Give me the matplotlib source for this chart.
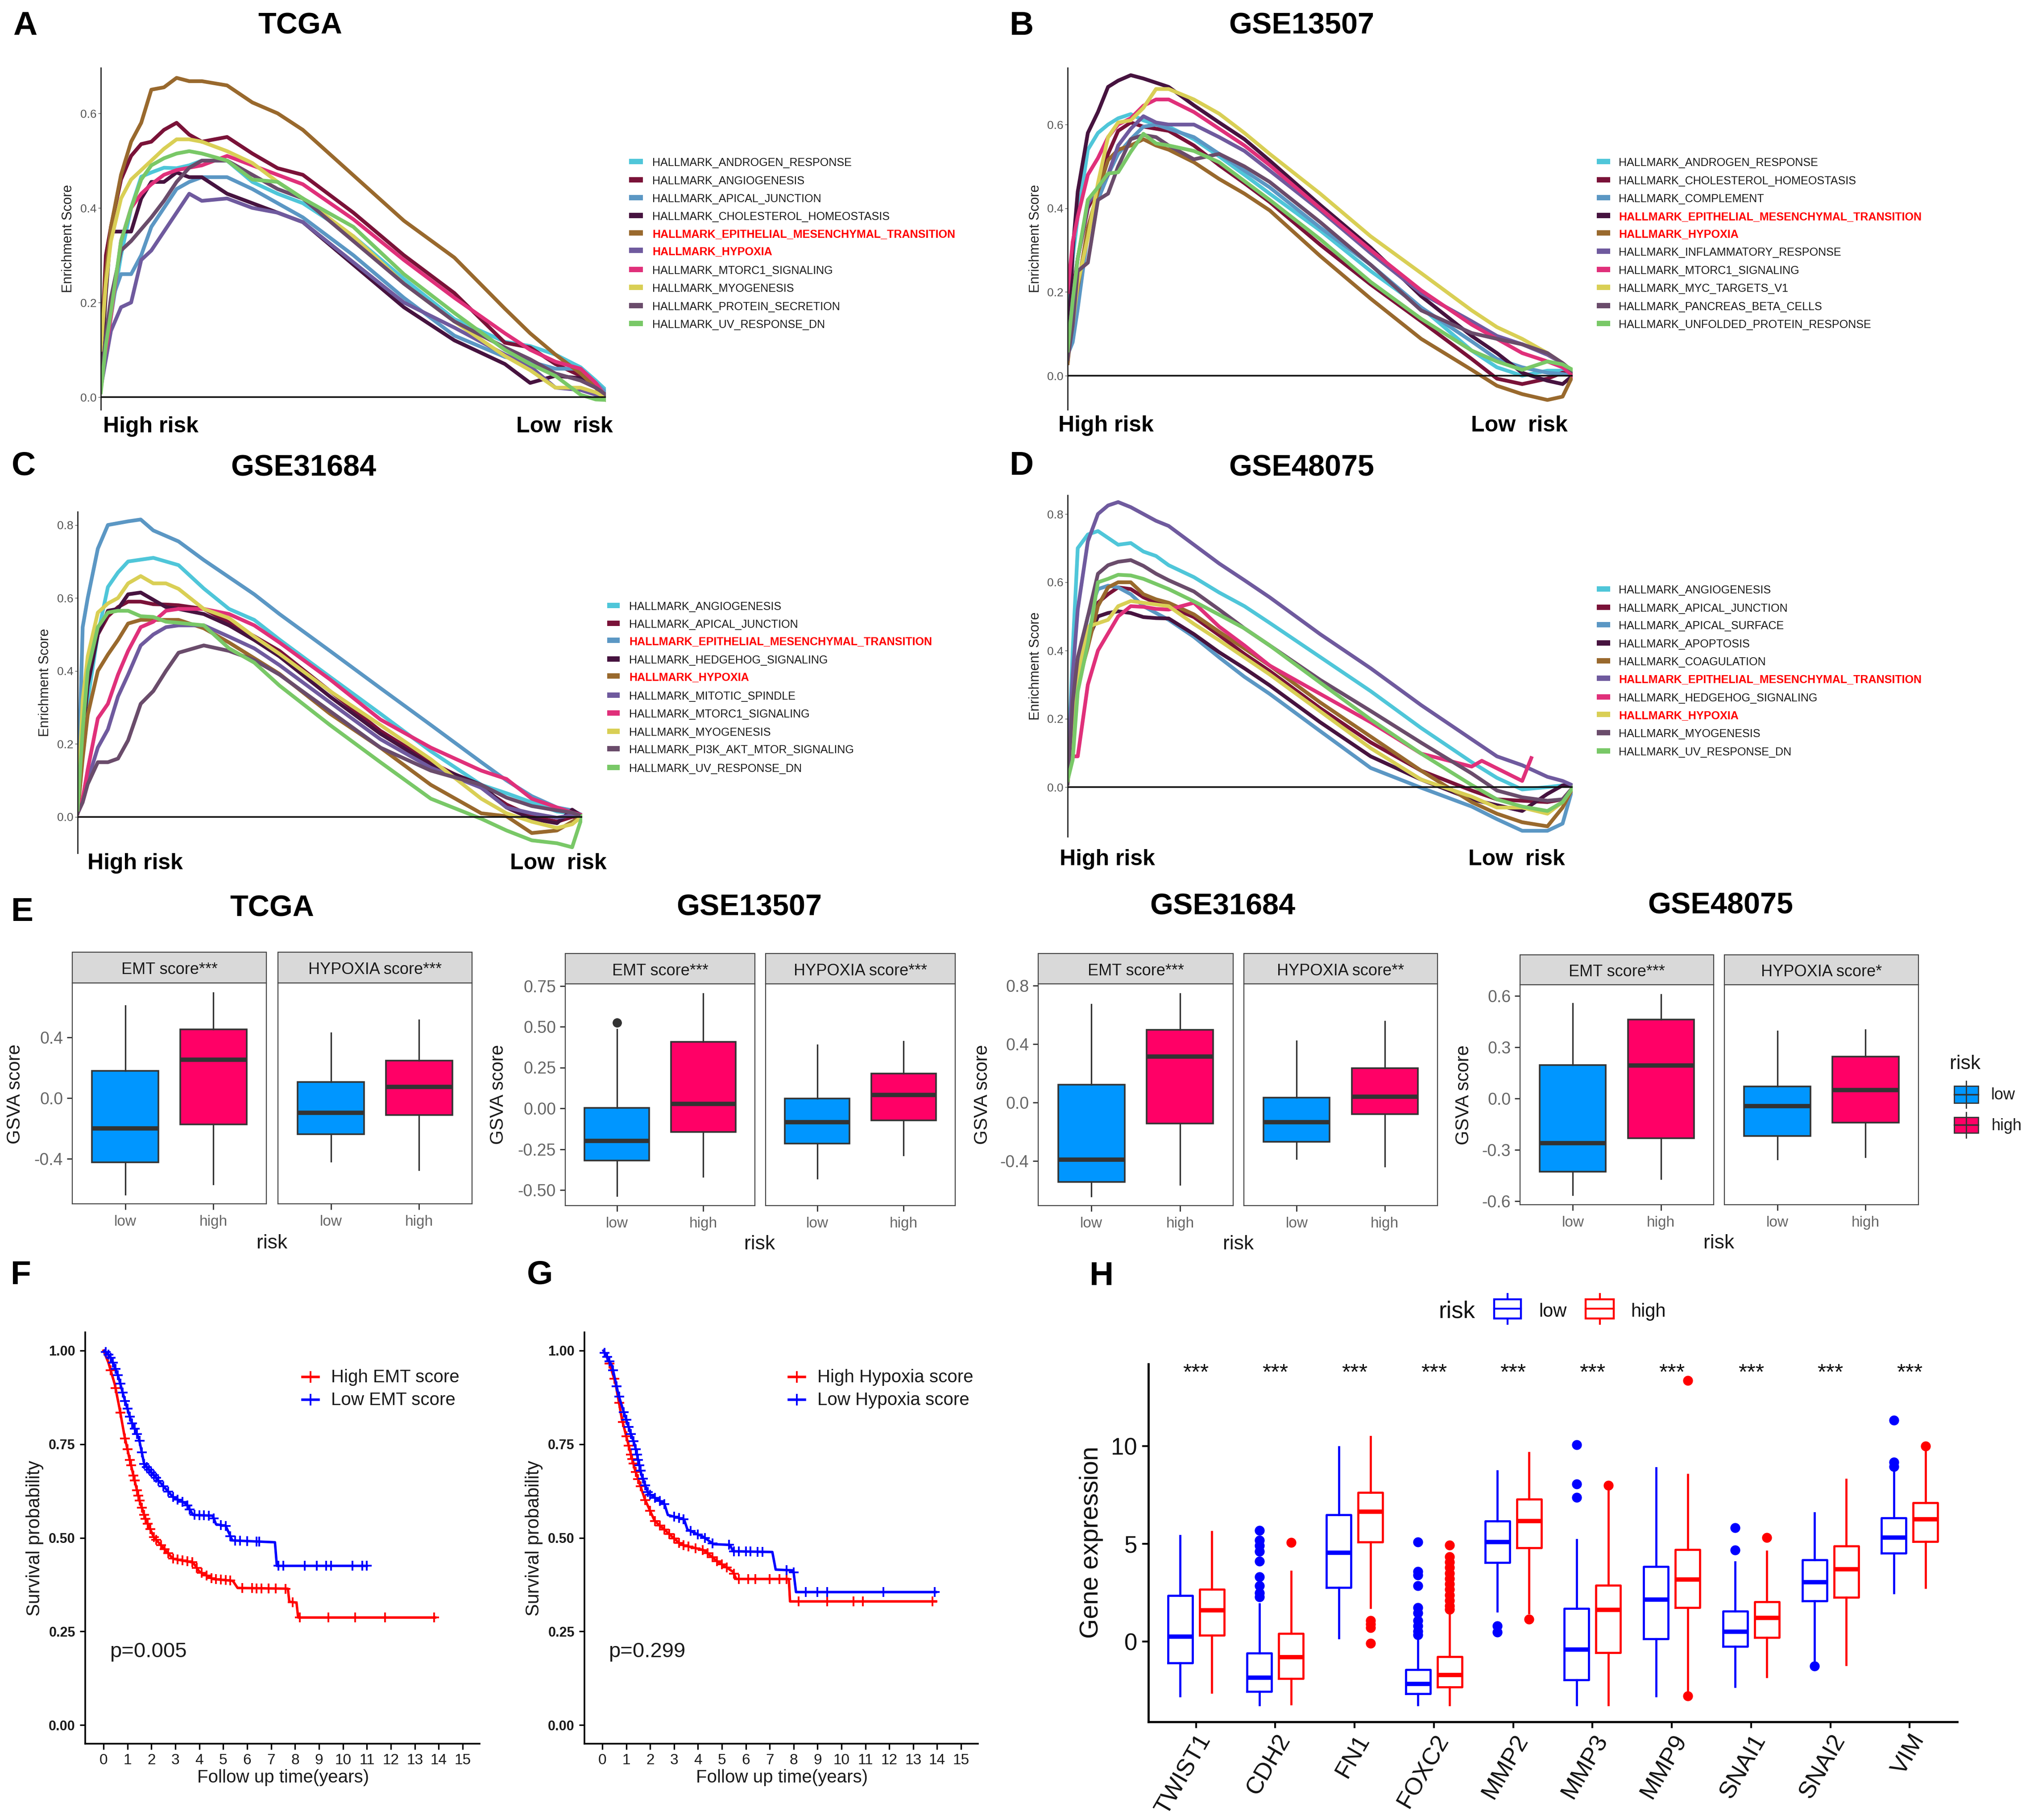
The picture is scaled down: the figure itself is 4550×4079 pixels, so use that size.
import numpy as np
import matplotlib
matplotlib.use('Agg')
import matplotlib.pyplot as plt
from matplotlib.patches import Rectangle
from matplotlib.lines import Line2D

plt.rcParams['font.family'] = ['Liberation Sans', 'DejaVu Sans']

W, H = 4550, 4079

# --- GSEA running scores
GRID = [0, .01, .02, .04, .06, .08, .1, .125, .15, .175, .2, .25, .3, .35, .4, .5, .6, .7, .8, .85, .9, .95, .98, 1]
GSEA_COLORS = ['#4FC6D9', '#7A1238', '#5B97C4', '#46133F', '#99692D', '#6F5A9E', '#E0307A', '#D9CF55', '#6A4C6B', '#79C867']

A_NAMES = ['ANDROGEN_RESPONSE', 'ANGIOGENESIS', 'APICAL_JUNCTION', 'CHOLESTEROL_HOMEOSTASIS', 'EPITHELIAL_MESENCHYMAL_TRANSITION',
           'HYPOXIA', 'MTORC1_SIGNALING', 'MYOGENESIS', 'PROTEIN_SECRETION', 'UV_RESPONSE_DN']
A_CURVES = [
    [.03, .10, .17, .30, .40, .466, .475, .485, .484, .49, .50, .50, .455, .43, .41, .34, .25, .165, .117, .108, .09, .063, .035, .015],
    [.08, .30, .36, .46, .51, .535, .54, .565, .58, .555, .54, .55, .515, .484, .47, .39, .30, .22, .115, .105, .07, .045, .02, 0],
    [.05, .12, .20, .26, .26, .30, .36, .40, .44, .455, .465, .465, .44, .41, .38, .30, .21, .13, .085, .075, .06, .06, .03, .01],
    [.05, .22, .35, .35, .35, .42, .455, .455, .475, .465, .465, .43, .41, .39, .37, .28, .19, .12, .07, .03, .045, .04, .02, 0],
    [.10, .26, .36, .47, .54, .58, .65, .655, .675, .668, .668, .659, .623, .60, .565, .469, .373, .295, .187, .135, .09, .05, .02, -.005],
    [.02, .08, .14, .19, .20, .29, .31, .35, .39, .43, .415, .42, .40, .39, .37, .285, .20, .147, .09, .065, .02, .015, .005, 0],
    [.05, .10, .17, .33, .40, .43, .45, .47, .48, .485, .49, .51, .49, .47, .45, .376, .29, .21, .135, .10, .075, .06, .03, 0],
    [.10, .24, .33, .42, .46, .48, .50, .525, .545, .545, .54, .52, .495, .455, .42, .34, .24, .16, .087, .057, .02, .02, .01, 0],
    [.03, .13, .21, .31, .33, .355, .38, .415, .455, .485, .50, .50, .47, .44, .42, .33, .24, .16, .105, .08, .05, .035, .02, .005],
    [.01, .11, .18, .33, .40, .46, .49, .505, .515, .52, .515, .50, .46, .455, .42, .36, .26, .178, .10, .07, .045, .005, -.005, -.006],
]

B_NAMES = ['ANDROGEN_RESPONSE', 'CHOLESTEROL_HOMEOSTASIS', 'COMPLEMENT', 'EPITHELIAL_MESENCHYMAL_TRANSITION', 'HYPOXIA',
           'INFLAMMATORY_RESPONSE', 'MTORC1_SIGNALING', 'MYC_TARGETS_V1', 'PANCREAS_BETA_CELLS', 'UNFOLDED_PROTEIN_RESPONSE']
B_CURVES = [
    [.10, .28, .38, .54, .58, .60, .615, .625, .61, .60, .595, .565, .524, .48, .435, .347, .25, .163, .06, .02, 0, .012, .012, .005],
    [.04, .20, .28, .40, .45, .53, .585, .605, .595, .59, .585, .55, .503, .46, .415, .313, .218, .13, .04, -.007, -.02, -.007, .007, 0],
    [.05, .08, .16, .34, .42, .48, .53, .565, .595, .60, .59, .57, .53, .49, .45, .354, .265, .163, .082, .04, .02, .007, .004, 0],
    [.03, .30, .44, .58, .63, .69, .705, .718, .71, .70, .69, .646, .605, .565, .514, .408, .306, .19, .095, .054, .007, -.012, -.02, 0],
    [.03, .14, .21, .354, .44, .515, .54, .55, .565, .55, .54, .51, .47, .435, .395, .286, .184, .088, .014, -.024, -.044, -.058, -.05, 0],
    [.06, .18, .28, .41, .45, .48, .55, .59, .62, .605, .60, .60, .57, .537, .49, .395, .293, .197, .13, .095, .075, .05, .03, .01],
    [.20, .32, .38, .48, .52, .57, .60, .615, .645, .66, .66, .63, .59, .55, .503, .40, .30, .204, .122, .088, .054, .034, .02, 0],
    [.05, .12, .22, .33, .46, .57, .605, .61, .64, .685, .685, .66, .626, .58, .53, .435, .333, .245, .156, .116, .088, .054, .03, .01],
    [.04, .12, .25, .27, .42, .435, .50, .565, .575, .57, .55, .517, .53, .50, .463, .367, .265, .156, .102, .088, .075, .054, .03, .01],
    [.06, .18, .28, .42, .45, .483, .486, .535, .578, .555, .55, .537, .51, .465, .42, .326, .224, .136, .06, .034, .014, .034, .027, .014],
]

C_NAMES = ['ANGIOGENESIS', 'APICAL_JUNCTION', 'EPITHELIAL_MESENCHYMAL_TRANSITION', 'HEDGEHOG_SIGNALING', 'HYPOXIA',
           'MITOTIC_SPINDLE', 'MTORC1_SIGNALING', 'MYOGENESIS', 'PI3K_AKT_MTOR_SIGNALING', 'UV_RESPONSE_DN']
C_CURVES = [
    [.02, .18, .32, .50, .63, .67, .70, .705, .71, .70, .69, .626, .57, .54, .486, .384, .283, .18, .088, .065, .04, .015, .01, .002],
    [.02, .25, .38, .50, .55, .575, .59, .59, .583, .582, .58, .57, .533, .495, .455, .345, .236, .15, .08, .034, .002, -.013, 0, .002],
    [.02, .52, .60, .735, .80, .805, .81, .815, .785, .77, .755, .704, .657, .61, .556, .455, .353, .252, .15, .10, .057, .026, .018, .005],
    [.02, .22, .36, .50, .565, .57, .61, .615, .595, .575, .57, .556, .525, .485, .44, .33, .228, .143, .088, .026, -.005, -.017, .02, .002],
    [.01, .16, .28, .40, .445, .485, .53, .54, .54, .54, .54, .517, .478, .435, .392, .283, .19, .088, .01, .002, -.044, -.037, -.013, .002],
    [.01, .05, .10, .19, .24, .33, .39, .47, .50, .52, .525, .525, .494, .462, .416, .314, .213, .135, .08, .026, .01, -.002, .005, .002],
    [.01, .05, .13, .27, .31, .39, .455, .52, .535, .565, .57, .57, .556, .525, .478, .377, .267, .19, .127, .104, .05, .026, .012, .005],
    [.02, .32, .44, .56, .585, .60, .64, .66, .64, .64, .625, .57, .545, .494, .447, .345, .252, .158, .05, .01, -.013, -.03, -.02, .002],
    [.01, .04, .09, .15, .15, .16, .21, .31, .345, .40, .45, .47, .455, .43, .39, .29, .19, .127, .088, .053, .03, .018, .012, .002],
    [.02, .24, .40, .52, .56, .565, .565, .55, .548, .535, .532, .525, .462, .423, .36, .252, .15, .05, -.005, -.037, -.064, -.072, -.083, .002],
]

D_NAMES = ['ANGIOGENESIS', 'APICAL_JUNCTION', 'APICAL_SURFACE', 'APOPTOSIS', 'COAGULATION', 'EPITHELIAL_MESENCHYMAL_TRANSITION',
           'HEDGEHOG_SIGNALING', 'HYPOXIA', 'MYOGENESIS', 'UV_RESPONSE_DN']
D_HEDGEHOG_X = [0, .01, .02, .04, .06, .08, .1, .125, .15, .175, .2, .25, .3, .35, .4, .5, .6, .7, .8, .82, .9, .918]
D_CURVES = [
    [.03, .40, .70, .74, .75, .73, .71, .715, .69, .677, .65, .615, .57, .53, .481, .381, .281, .173, .073, .027, -.007, 0, .005, .005],
    [.02, .28, .34, .45, .54, .565, .585, .58, .556, .54, .53, .498, .445, .39, .34, .231, .131, .048, -.01, -.036, -.04, -.044, -.036, -.002],
    [.02, .22, .36, .50, .58, .59, .585, .565, .53, .51, .49, .44, .38, .323, .273, .164, .056, -.002, -.057, -.094, -.128, -.128, -.107, -.002],
    [.02, .16, .30, .43, .50, .51, .515, .51, .498, .495, .494, .448, .395, .348, .298, .19, .09, .022, -.036, -.053, -.07, -.02, .005, .005],
    [.02, .24, .30, .41, .53, .585, .60, .60, .565, .55, .54, .506, .455, .406, .356, .248, .148, .048, -.044, -.078, -.103, -.115, -.06, -.002],
    [.04, .33, .52, .72, .80, .825, .835, .82, .80, .78, .765, .71, .655, .606, .556, .448, .348, .24, .14, .09, .064, .03, .018, .005],
    [.04, .09, .09, .30, .40, .45, .50, .53, .528, .522, .52, .54, .47, .415, .356, .273, .19, .098, .06, .077, .018, .085],
    [.01, .16, .32, .47, .48, .49, .53, .545, .54, .535, .53, .478, .43, .38, .33, .222, .114, .022, -.028, -.06, -.06, -.078, -.044, -.002],
    [.01, .25, .38, .50, .625, .65, .66, .665, .648, .625, .606, .573, .52, .465, .415, .314, .223, .13, .04, -.01, -.03, -.04, -.036, -.002],
    [.02, .08, .28, .42, .60, .61, .622, .62, .61, .595, .58, .544, .505, .465, .415, .306, .198, .098, .006, -.036, -.057, -.07, -.044, -.002],
]

# --- GSVA boxes: [upper whisker, q3, median, q1, lower whisker] for low, high
E_RISK = ['low', 'high']
E_TCGA_EMT = [[.611, .179, -.202, -.426, -.637], [.696, .454, .253, -.173, -.568]]
E_TCGA_HYP = [[.432, .107, -.096, -.24, -.42], [.515, .248, .074, -.112, -.474]]
E_13507_EMT = [[.484, .004, -.2, -.321, -.535], [.703, .407, .027, -.145, -.417]]
E_13507_HYP = [[.388, .059, -.086, -.217, -.429], [.411, .212, .081, -.074, -.288]]
E_31684_EMT = [[.674, .123, -.392, -.543, -.641], [.747, .5, .314, -.143, -.563]]
E_31684_HYP = [[.422, .035, -.136, -.269, -.385], [.556, .234, .041, -.081, -.438]]
E_48075_EMT = [[.556, .195, -.262, -.429, -.563], [.608, .463, .192, -.232, -.47]]
E_48075_HYP = [[.395, .071, -.044, -.219, -.354], [.402, .246, .05, -.141, -.342]]
E_13507_OUTLIER = [.525]

# --- survival curves
F_HIGH_T = [0, .2, .47, .68, .87, 1.07, 1.28, 1.5, 1.75, 2.1, 2.5, 2.9, 3.74, 4.0, 4.56, 5.4, 5.6, 7.7, 7.76, 8.06, 8.13, 13.85]
F_HIGH_S = [1, .969, .91, .842, .774, .716, .658, .6, .551, .502, .473, .444, .434, .41, .39, .385, .366, .364, .329, .327, .287, .287]
F_LOW_T = [.05, .33, .6, .87, 1.15, 1.48, 1.7, 2.1, 2.5, 2.9, 3.47, 3.74, 4.56, 4.7, 5.1, 5.38, 7.16, 7.24, 11]
F_LOW_S = [1, .979, .935, .872, .813, .765, .697, .667, .638, .609, .59, .561, .559, .536, .532, .493, .488, .425, .425]
F_HIGH_CENS = [.3, .5, .7, .9, 1.0, 1.1, 1.15, 1.25, 1.3, 1.4, 1.45, 1.5, 1.6, 1.7, 1.75, 1.85, 1.95, 2.1, 2.2, 2.4, 2.55, 2.7, 2.9, 3.1, 3.3, 3.5, 3.7, 3.9, 4.1, 4.3, 4.5, 4.7, 4.9, 5.1, 5.3, 5.8, 6.2, 6.4, 6.6, 6.9, 7.2, 7.6, 7.9, 8.2, 9.4, 10.5, 11.75, 13.8]
F_LOW_CENS = [.1, .2, .3, .4, .5, .6, .7, .8, .9, 1.0, 1.1, 1.2, 1.3, 1.4, 1.5, 1.6, 1.7, 1.8, 1.9, 2.0, 2.1, 2.2, 2.3, 2.5, 2.7, 2.9, 3.1, 3.3, 3.5, 3.6, 3.8, 4.0, 4.2, 4.4, 4.6, 4.9, 5.1, 5.3, 5.5, 5.7, 6.0, 6.4, 6.5, 7.3, 7.5, 8.4, 8.9, 9.3, 9.5, 10.4, 10.8, 11.0]
G_HIGH_T = [.05, .27, .55, .82, 1.09, 1.37, 1.78, 2.19, 2.87, 3.28, 4.24, 4.79, 5.47, 5.6, 7.8, 7.85, 13.95]
G_HIGH_S = [1, .972, .914, .817, .749, .681, .603, .545, .506, .482, .467, .438, .409, .39, .39, .33, .33]
G_LOW_T = [.05, .41, .68, .96, 1.37, 1.64, 1.92, 2.6, 2.74, 3.42, 3.56, 4.24, 4.65, 5.34, 5.47, 7.11, 7.25, 7.99, 8.1, 13.95]
G_LOW_S = [1, .959, .881, .823, .745, .668, .619, .59, .561, .549, .522, .502, .483, .481, .464, .462, .415, .413, .355, .355]
G_HIGH_CENS = [.3, .5, .7, .85, 1.0, 1.1, 1.2, 1.25, 1.3, 1.4, 1.5, 1.6, 1.8, 2.0, 2.2, 2.4, 2.6, 2.8, 3.0, 3.2, 3.4, 3.6, 3.9, 4.2, 4.4, 4.6, 4.8, 5.0, 5.2, 5.5, 5.7, 6.1, 6.4, 7.0, 7.4, 7.7, 8.2, 9.4, 10.5, 10.9, 13.8]
G_LOW_CENS = [.1, .2, .3, .45, .6, .7, .9, 1.0, 1.1, 1.2, 1.3, 1.4, 1.45, 1.5, 1.55, 1.6, 1.7, 1.8, 1.9, 2.0, 2.2, 2.4, 2.6, 3.0, 3.2, 3.4, 3.7, 4.0, 4.3, 4.6, 5.3, 5.5, 5.7, 6.0, 6.2, 6.5, 6.7, 7.7, 8.0, 8.5, 9.0, 9.4, 11.75, 13.9]

# --- gene expression boxes: [upper whisker, q3, median, q1, lower whisker]
GENES = ['TWIST1', 'CDH2', 'FN1', 'FOXC2', 'MMP2', 'MMP3', 'MMP9', 'SNAI1', 'SNAI2', 'VIM']
H_LOW = [[5.4, 2.35, .24, -1.1, -2.79], [1.92, -.6, -1.84, -2.55, -3.24], [9.96, 6.48, 4.54, 2.76, .19], [.24, -1.43, -2.16, -2.68, -3.24],
         [8.72, 6.16, 5.1, 4.04, 1.55], [5.21, 1.68, -.41, -1.97, -3.24], [8.88, 3.84, 2.14, .13, -2.79], [4.06, 1.56, .5, -.24, -2.31],
         [6.57, 4.17, 3.04, 2.07, -.97], [8.68, 6.33, 5.33, 4.53, 2.48]]
H_HIGH = [[5.62, 2.68, 1.6, .32, -2.6], [3.59, .41, -.8, -1.9, -3.2], [10.47, 7.63, 6.65, 5.08, 1.73], [1.45, -.78, -1.71, -2.33, -3.24],
          [9.65, 7.28, 6.16, 4.8, 1.45], [7.88, 2.87, 1.62, -.56, -3.24], [8.55, 4.71, 3.17, 1.73, -2.55], [4.62, 2.03, 1.21, .2, -1.81],
          [8.29, 4.88, 3.71, 2.27, -1.19], [9.74, 7.09, 6.26, 5.12, 2.76]]
H_LOW_OUT = [[], [5.68, 5.18, 4.9, 4.62, 4.12, 3.31, 2.85, 2.48, 2.29], [], [5.08, 3.59, 3.41, 2.85, 1.73, 1.45, 1.08, .8, .52, .34],
             [.8, .48], [10.07, 8.06, 7.37], [], [5.83, 4.69], [-1.25], [11.32, 9.18, 8.96]]
H_HIGH_OUT = [[], [5.07], [1.08, .89, .71, -.09], [4.93, 4.34, 4.06, 3.78, 3.5, 3.22, 2.94, 2.66, 2.38, 2.1, 1.82, 1.64],
              [1.15], [7.99], [13.35, -2.79], [5.31], [], [10.0]]


def px_axes(left, top, right, bottom):
    return fig.add_axes([left / W, 1 - bottom / H, (right - left) / W, (bottom - top) / H])


def px_text(x, y, s, **kw):
    kw.setdefault('ha', 'center')
    kw.setdefault('va', 'center')
    # glyph centres sit a little above the box centre
    if kw.get('rotation'):
        x += 5
    else:
        y += 5
    return fig.text(x / W, 1 - y / H, s, **kw)


def px_rect(x0, y0, x1, y1, **kw):
    fig.add_artist(Rectangle((x0 / W, 1 - y1 / H), (x1 - x0) / W, (y1 - y0) / H, transform=fig.transFigure, **kw))


def px_line(x0, y0, x1, y1, **kw):
    fig.add_artist(Line2D([x0 / W, x1 / W], [1 - y0 / H, 1 - y1 / H], transform=fig.transFigure, **kw))


def gsea_panel(letter, letter_pos, title, title_pos, box, y0_px, per_unit, yticks, names, curves, leg_y, leg_x, hi, lo, ylab_x):
    left, top, right, bottom = box
    ax = px_axes(left, top, right, bottom)
    for i, curve in enumerate(curves):
        xs = D_HEDGEHOG_X if len(curve) != len(GRID) else GRID
        ax.plot(xs, curve, color=GSEA_COLORS[i], lw=6, solid_joinstyle='round', zorder=2)
    ax.axhline(0, color='#111111', lw=2.6, zorder=3)
    ax.set_xlim(0, 1)
    ax.set_ylim((y0_px - bottom) / per_unit, (y0_px - top) / per_unit)
    ax.set_xticks([])
    ax.set_yticks(yticks)
    ax.set_yticklabels(['%.1f' % t for t in yticks], fontsize=19, color='#555555')
    ax.tick_params(axis='y', length=4, width=1, color='#555555', pad=3)
    for s in ['top', 'right', 'bottom']:
        ax.spines[s].set_visible(False)
    ax.spines['left'].set_linewidth(2)
    ax.spines['left'].set_color('#222222')
    ax.patch.set_alpha(0)
    px_text(ylab_x, (top + bottom) / 2, 'Enrichment Score', rotation=90, fontsize=22, color='#222222')
    px_text(letter_pos[0], letter_pos[1] + 2, letter, fontsize=54, fontweight='bold')
    px_text(title_pos[0], title_pos[1] + 3, title, fontsize=48, fontweight='bold')
    px_text(hi[0], hi[1], 'High risk', ha='left', fontsize=36, fontweight='bold')
    px_text(lo[0], lo[1], 'Low  risk', ha='left', fontsize=36, fontweight='bold')
    for i, name in enumerate(names):
        px_rect(leg_x[0], leg_y[i] - 6, leg_x[1], leg_y[i] + 6, color=GSEA_COLORS[i], lw=0)
        hot = name.startswith('EPITHELIAL') or name == 'HYPOXIA'
        px_text(leg_x[2], leg_y[i] - 2, 'HALLMARK_' + name, ha='left', fontsize=18.1, color='#FF0000' if hot else '#1A1A1A',
                fontweight='bold' if hot else 'normal')


def box_stats(rows, fliers=None):
    out = []
    for i, r in enumerate(rows):
        out.append({'whishi': r[0], 'q3': r[1], 'med': r[2], 'q1': r[3], 'whislo': r[4],
                    'fliers': fliers[i] if fliers else []})
    return out


def gsva_facet(box, strip, label, rows, y0_px, per_unit, yticks, fmt, show_y, fliers=None):
    left, top, right, bottom = box
    ax = px_axes(left, top, right, bottom)
    ax.set_xlim(.4, 2.6)
    ax.set_ylim((y0_px - bottom) / per_unit, (y0_px - top) / per_unit)
    bp = ax.bxp(box_stats(rows, fliers), positions=[1, 2], widths=.75, patch_artist=True, showcaps=False,
                boxprops=dict(edgecolor='#333333', linewidth=2.6),
                medianprops=dict(color='#333333', linewidth=7, solid_capstyle='butt'),
                whiskerprops=dict(color='#333333', linewidth=2.4),
                flierprops=dict(marker='o', markersize=14, markerfacecolor='#333333', markeredgecolor='#333333'))
    for patch, c in zip(bp['boxes'], ['#0096FF', '#FF0066']):
        patch.set_facecolor(c)
    ax.set_xticks([1, 2])
    ax.set_xticklabels(E_RISK, fontsize=24, color='#666666')
    ax.tick_params(axis='x', length=9, width=2, color='#333333', pad=9)
    if show_y:
        ax.set_yticks(yticks)
        ax.set_yticklabels([fmt % t for t in yticks], fontsize=27, color='#666666')
        ax.tick_params(axis='y', length=9, width=2, color='#333333', pad=6)
    else:
        ax.set_yticks([])
    for s in ax.spines.values():
        s.set_linewidth(1.6)
        s.set_color('#444444')
    px_rect(left, strip, right, top, facecolor='#D9D9D9', edgecolor='#444444', lw=1.6)
    px_text((left + right) / 2, (strip + top) / 2, label, fontsize=26, color='#1A1A1A')


def km_panel(letter, letter_x, box, x0_px, labels, leg_x, p_label, p_x, high, low):
    left, top, right, bottom = box
    ax = px_axes(left, top, right, bottom)
    per_year = (x0_px[1] - x0_px[0]) / 15
    ax.set_xlim((left - x0_px[0]) / per_year, (right - x0_px[0]) / per_year)
    ax.set_ylim((3866 - bottom) / 839, (3866 - top) / 839)
    for (t, s, cens), c in zip([high, low], ['#FF0000', '#0000FF']):
        ax.plot(t, s, color=c, lw=4)
        ax.plot(cens, np.interp(cens, t, s), ls='none', marker='+', ms=16, mew=2.8, color=c)
    ax.set_xticks(range(16))
    ax.set_yticks([0, .25, .5, .75, 1])
    ax.set_yticklabels(['0.00', '0.25', '0.50', '0.75', '1.00'], fontsize=22, fontweight='bold', color='#1A1A1A')
    ax.set_xticklabels([str(i) for i in range(16)], fontsize=24, color='#1A1A1A')
    ax.tick_params(length=9, width=2.4, pad=7)
    ax.spines['top'].set_visible(False)
    ax.spines['right'].set_visible(False)
    ax.spines['left'].set_linewidth(2.6)
    ax.spines['bottom'].set_linewidth(2.6)
    px_text(letter_x, 2853, letter, fontsize=54, fontweight='bold')
    px_text((left + right) / 2 + 2, 3979, 'Follow up time(years)', fontsize=29, color='#1A1A1A')
    px_text(left - 118, 3447, 'Survival probability', rotation=90, fontsize=30, color='#1A1A1A')
    px_text(p_x, 3697, p_label, ha='left', fontsize=34, color='#1A1A1A')
    for y, lab, c in zip([3082, 3133], labels, ['#FF0000', '#0000FF']):
        px_line(leg_x, y + 4, leg_x + 36, y + 4, color=c, lw=4)
        px_line(leg_x + 18, y - 7, leg_x + 18, y + 15, color=c, lw=2.8)
        px_text(leg_x + 64, y, lab, ha='left', fontsize=29, color='#1A1A1A')


fig = plt.figure(figsize=(W / 100, H / 100), dpi=100, facecolor='white')

A_LEG = [362, 403, 443, 483, 522, 561, 604, 644, 685, 725]
B_LEG = [362, 403, 443, 483, 522, 563, 604, 644, 685, 725]
C_LEG = [1357, 1397, 1435, 1477, 1515, 1558, 1598, 1639, 1678, 1720]
D_LEG = [1320, 1361, 1400, 1441, 1481, 1520, 1562, 1601, 1642, 1683]

gsea_panel('A', (56, 51), 'TCGA', (673, 51), (226, 152, 1358, 918), 890, 1060, [0, .2, .4, .6], A_NAMES, A_CURVES,
           A_LEG, (1410, 1441, 1462), (231, 951), (1157, 951), 148)
gsea_panel('B', (2290, 51), 'GSE13507', (2917, 51), (2393, 152, 3525, 918), 842, 938, [0, .2, .4, .6], B_NAMES, B_CURVES,
           B_LEG, (3579, 3609, 3628), (2372, 949), (3297, 949), 2316)
gsea_panel('C', (53, 1038), 'GSE31684', (680, 1041), (174, 1147, 1305, 1912), 1831, 818, [0, .2, .4, .6, .8], C_NAMES, C_CURVES,
           C_LEG, (1361, 1389, 1410), (196, 1930), (1143, 1930), 96)
gsea_panel('D', (2290, 1038), 'GSE48075', (2917, 1041), (2393, 1110, 3525, 1875), 1764, 765, [0, .2, .4, .6, .8], D_NAMES, D_CURVES,
           D_LEG, (3579, 3609, 3628), (2375, 1921), (3291, 1921), 2316)

# panel E
px_text(50, 2039, 'E', fontsize=54, fontweight='bold')
E_TICKS_TCGA = [-.4, 0, .4]
gsva_facet((162, 2203, 597, 2698), 2134, 'EMT score***', E_TCGA_EMT, 2461, 339, E_TICKS_TCGA, '%.1f', True)
gsva_facet((623, 2203, 1058, 2698), 2134, 'HYPOXIA score***', E_TCGA_HYP, 2461, 339, E_TICKS_TCGA, '%.1f', False)
E_TICKS_13507 = [-.5, -.25, 0, .25, .5, .75]
gsva_facet((1267, 2205, 1692, 2702), 2137, 'EMT score***', E_13507_EMT, 2484, 366, E_TICKS_13507, '%.2f', True, [E_13507_OUTLIER, []])
gsva_facet((1716, 2205, 2141, 2702), 2137, 'HYPOXIA score***', E_13507_HYP, 2484, 366, E_TICKS_13507, '%.2f', False)
E_TICKS_31684 = [-.4, 0, .4, .8]
gsva_facet((2327, 2205, 2764, 2702), 2137, 'EMT score***', E_31684_EMT, 2471, 327, E_TICKS_31684, '%.1f', True)
gsva_facet((2788, 2205, 3222, 2702), 2137, 'HYPOXIA score**', E_31684_HYP, 2471, 327, E_TICKS_31684, '%.1f', False)
E_TICKS_48075 = [-.6, -.3, 0, .3, .6]
gsva_facet((3407, 2207, 3841, 2700), 2140, 'EMT score***', E_48075_EMT, 2462, 383, E_TICKS_48075, '%.1f', True)
gsva_facet((3865, 2207, 4300, 2700), 2140, 'HYPOXIA score*', E_48075_HYP, 2462, 383, E_TICKS_48075, '%.1f', False)

E_TITLES = ['TCGA', 'GSE13507', 'GSE31684', 'GSE48075']
E_TITLE_POS = [(610, 2032), (1679, 2029), (2740, 2027), (3856, 2026)]
E_RISK_POS = [(610, 2781), (1703, 2784), (2776, 2784), (3853, 2782)]
E_YLAB_POS = [(29, 2452), (1112, 2453), (2197, 2453), (3276, 2454)]
for t, tp, rp, yp in zip(E_TITLES, E_TITLE_POS, E_RISK_POS, E_YLAB_POS):
    px_text(tp[0], tp[1], t, fontsize=48, fontweight='bold')
    px_text(rp[0], rp[1], 'risk', fontsize=32, color='#1A1A1A')
    px_text(yp[0], yp[1], 'GSVA score', rotation=90, fontsize=30, color='#1A1A1A')

px_text(4405, 2380, 'risk', fontsize=32, color='#1A1A1A')
for y0, y1, med, c, lab in [(2434, 2472, 2453, '#0096FF', 'low'), (2504, 2539, 2521, '#FF0066', 'high')]:
    px_line(4407, y0 - 11, 4407, y1 + 11, color='#333333', lw=2)
    px_rect(4380, y0, 4434, y1, facecolor=c, edgecolor='#333333', lw=2)
    px_line(4380, med, 4434, med, color='#333333', lw=2.5)
    px_text(4463, (y0 + y1) / 2 - 3, lab, ha='left', fontsize=26, color='#1A1A1A')

# panels F and G
km_panel('F', 47, (191, 2986, 1075, 3908), (232, 1037), ['High EMT score', 'Low EMT score'], 678, 'p=0.005', 246,
         (F_HIGH_T, F_HIGH_S, F_HIGH_CENS), (F_LOW_T, F_LOW_S, F_LOW_CENS))
km_panel('G', 1210, (1310, 2986, 2192, 3908), (1350, 2154), ['High Hypoxia score', 'Low Hypoxia score'], 1768, 'p=0.299', 1364,
         (G_HIGH_T, G_HIGH_S, G_HIGH_CENS), (G_LOW_T, G_LOW_S, G_LOW_CENS))

# panel H
ax = px_axes(2574, 3057, 4387, 3859)
ax.set_xlim(.4, 10.6)
ax.set_ylim((3679 - 3859) / 43.8, (3679 - 3057) / 43.8)
for rows, fl, c, off in [(H_LOW, H_LOW_OUT, '#0000FF', -.2), (H_HIGH, H_HIGH_OUT, '#FF0000', .2)]:
    ax.bxp(box_stats(rows, fl), positions=np.arange(1, 11) + off, widths=.31, showcaps=False,
           boxprops=dict(color=c, linewidth=3.4),
           medianprops=dict(color=c, linewidth=7, solid_capstyle='butt'),
           whiskerprops=dict(color=c, linewidth=3.4),
           flierprops=dict(marker='o', markersize=15, markerfacecolor=c, markeredgecolor=c))
for i in range(10):
    ax.text(i + 1, 13.72, '***', ha='center', va='center', fontsize=36, color='#111111')
ax.set_xticks(range(1, 11))
ax.set_xticklabels(GENES, rotation=60, ha='right', va='top', rotation_mode='anchor', fontsize=39, color='#111111')
ax.set_yticks([0, 5, 10])
ax.set_yticklabels(['0', '5', '10'], fontsize=38, color='#111111')
ax.tick_params(length=10, width=3, pad=8)
ax.tick_params(axis='x', pad=4)
ax.spines['top'].set_visible(False)
ax.spines['right'].set_visible(False)
ax.spines['left'].set_linewidth(3.4)
ax.spines['bottom'].set_linewidth(3.4)
px_text(2469, 2855, 'H', fontsize=54, fontweight='bold')
px_text(2441, 3457, 'Gene expression', rotation=90, fontsize=41, color='#111111')
px_text(3265, 2935, 'risk', fontsize=38, color='#111111')
for x0, x1, c, lab, tx in [(3349, 3409, '#0000FF', 'low', 3449), (3554, 3617, '#FF0000', 'high', 3655)]:
    px_line((x0 + x1) / 2, 2900, (x0 + x1) / 2, 2967, color=c, lw=3)
    px_rect(x0, 2912, x1, 2955, facecolor='white', edgecolor=c, lw=3.2, zorder=3)
    px_line(x0, 2933, x1, 2933, color=c, lw=3, zorder=4)
    px_text(tx, 2935, lab, ha='left', fontsize=30, color='#111111')

fig.savefig('out.png', dpi=100)
